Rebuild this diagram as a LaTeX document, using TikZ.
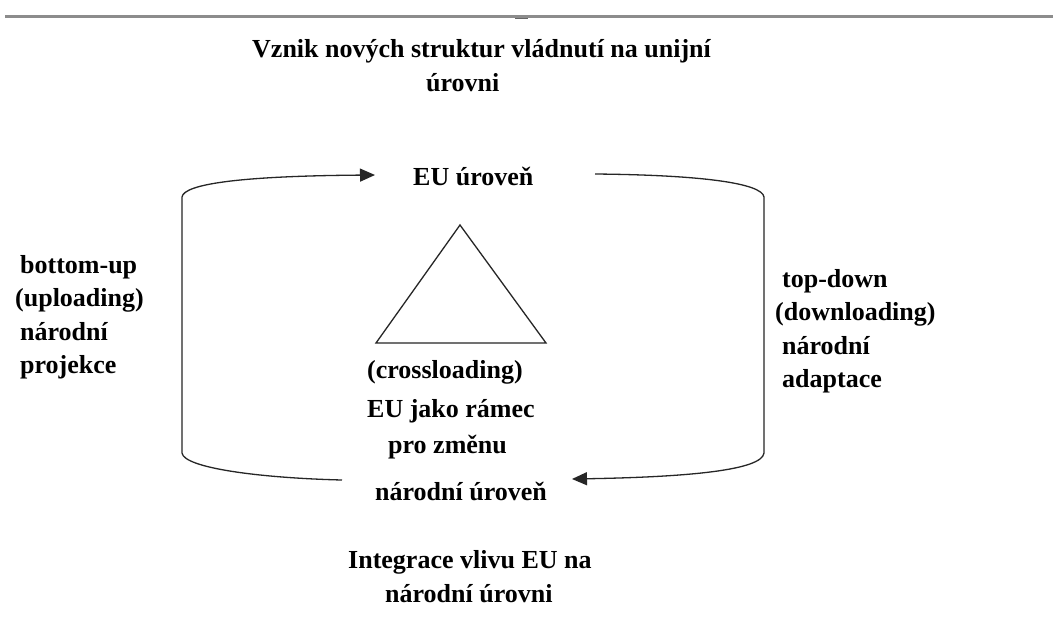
\documentclass[tikz,border=0pt]{standalone}
\usepackage{fontspec}
\setmainfont{Liberation Serif}
\usetikzlibrary{arrows.meta}
\tikzset{
  txt/.style={anchor=base west, inner sep=0pt, font=\bfseries\fontsize{26}{33.5}\selectfont, text=black},
  flow/.style={draw=black!85, line width=1.3pt},
  tip/.style={-{Triangle[length=15pt,width=13pt]}},
  tri/.style={draw=black!85, line width=1.3pt, line join=miter},
  rule/.style={draw=black!45, line width=3pt}
}
\begin{document}
\begin{tikzpicture}[x=1pt,y=-1pt]
\useasboundingbox (0,0) rectangle (1053,624);
\fill[white] (0,0) rectangle (1053,624);
% top rule
\coordinate (r1) at (5,16);
\coordinate (r2) at (1053,16);
\draw[rule] (r1) -- (r2);
\coordinate (m1) at (515,18.5);
\coordinate (m2) at (528,18.5);
\draw[draw=black!60, line width=1.5pt] (m1) -- (m2);
% texts
\node[txt] (t1) at (252,57) {Vznik nových struktur vládnutí na unijní};
\node[txt] (t2) at (426,91) {úrovni};
\node[txt] (eu) at (413,185) {EU úroveň};
\node[txt] (c1) at (367,378) {(crossloading)};
\node[txt] (c2) at (367,417) {EU jako rámec};
\node[txt] (c3) at (388,453) {pro změnu};
\node[txt] (nu) at (375,500) {národní úroveň};
\node[txt] (i1) at (348,568) {Integrace vlivu EU na};
\node[txt] (i2) at (385,602) {národní úrovni};
\node[txt] (l1) at (20,273) {bottom-up};
\node[txt] (l2) at (15,306.5) {(uploading)};
\node[txt] (l3) at (20,340) {národní};
\node[txt] (l4) at (20,373.5) {projekce};
\node[txt] (p1) at (782,287) {top-down};
\node[txt] (p2) at (775,320.5) {(downloading)};
\node[txt] (p3) at (782,354) {národní};
\node[txt] (p4) at (782,387.5) {adaptace};
% triangle
\coordinate (ta) at (460,225);
\coordinate (tb) at (376,343);
\coordinate (tc) at (546,343);
\draw[tri] (ta) -- (tb) -- (tc) -- cycle;
% bottom-up loop (left)
\coordinate (ls) at (342,480);
\coordinate (lb) at (182,453);
\coordinate (lt) at (182,197);
\coordinate (le) at (375,175);
\draw[flow,tip] (ls) .. controls (260,478) and (184,468) .. (lb) -- (lt)
  .. controls (184,184) and (240,176) .. (le);
% top-down loop (right)
\coordinate (rs) at (595,174);
\coordinate (rt) at (764,197);
\coordinate (rb) at (764,453);
\coordinate (re) at (572,479);
\draw[flow,tip] (rs) .. controls (700,175) and (762,183) .. (rt) -- (rb)
  .. controls (762,470) and (690,477) .. (re);
\end{tikzpicture}
\end{document}
